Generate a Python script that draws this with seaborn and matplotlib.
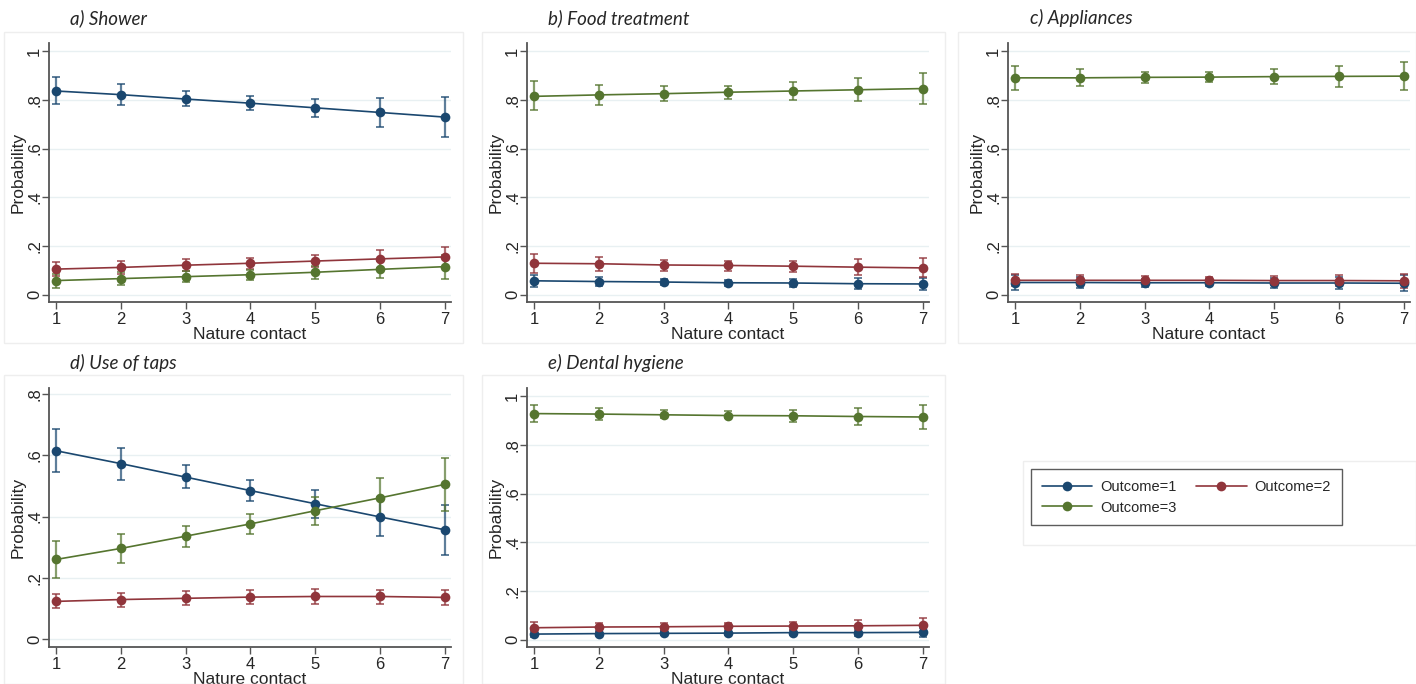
import numpy as np
import pandas as pd
import matplotlib
matplotlib.use("Agg")
import matplotlib.pyplot as plt
from matplotlib.patches import Rectangle
from matplotlib.lines import Line2D
import seaborn as sns

# Predicted probabilities by nature contact level (1..7)
nature = [1, 2, 3, 4, 5, 6, 7]
outcomes = ["Outcome=1", "Outcome=2", "Outcome=3"]

# a) Shower
shower_est = [[0.836, 0.821, 0.803, 0.786, 0.767, 0.748, 0.729],
              [0.105, 0.112, 0.121, 0.129, 0.138, 0.147, 0.155],
              [0.058, 0.066, 0.074, 0.082, 0.092, 0.104, 0.115]]
shower_lo = [[0.781, 0.778, 0.773, 0.759, 0.730, 0.690, 0.647],
             [0.075, 0.085, 0.096, 0.107, 0.112, 0.111, 0.114],
             [0.029, 0.038, 0.052, 0.062, 0.066, 0.068, 0.066]]
shower_hi = [[0.892, 0.863, 0.834, 0.814, 0.805, 0.807, 0.811],
             [0.136, 0.140, 0.145, 0.151, 0.164, 0.182, 0.196],
             [0.086, 0.093, 0.096, 0.103, 0.118, 0.140, 0.164]]

# b) Food treatment
food_est = [[0.057, 0.054, 0.052, 0.049, 0.048, 0.045, 0.044],
            [0.129, 0.127, 0.122, 0.120, 0.117, 0.113, 0.110],
            [0.814, 0.820, 0.825, 0.831, 0.836, 0.841, 0.846]]
food_lo = [[0.030, 0.035, 0.038, 0.037, 0.031, 0.023, 0.019],
           [0.091, 0.097, 0.099, 0.099, 0.093, 0.082, 0.071],
           [0.756, 0.778, 0.797, 0.805, 0.801, 0.795, 0.784]]
food_hi = [[0.079, 0.072, 0.065, 0.061, 0.064, 0.068, 0.069],
           [0.167, 0.154, 0.144, 0.139, 0.140, 0.146, 0.150],
           [0.875, 0.862, 0.855, 0.858, 0.871, 0.890, 0.911]]

# c) Appliances
appl_est = [[0.050, 0.050, 0.049, 0.049, 0.048, 0.048, 0.047],
            [0.059, 0.059, 0.059, 0.059, 0.058, 0.058, 0.057],
            [0.890, 0.890, 0.892, 0.893, 0.895, 0.896, 0.897]]
appl_lo = [[0.020, 0.028, 0.033, 0.034, 0.029, 0.022, 0.014],
           [0.034, 0.039, 0.043, 0.044, 0.041, 0.036, 0.029],
           [0.842, 0.856, 0.868, 0.871, 0.864, 0.852, 0.841]]
appl_hi = [[0.080, 0.072, 0.065, 0.064, 0.067, 0.074, 0.080],
           [0.084, 0.079, 0.075, 0.074, 0.075, 0.080, 0.085],
           [0.938, 0.925, 0.916, 0.916, 0.925, 0.940, 0.955]]

# d) Use of taps
taps_est = [[0.615, 0.573, 0.529, 0.485, 0.442, 0.399, 0.357],
            [0.123, 0.129, 0.133, 0.137, 0.139, 0.139, 0.136],
            [0.260, 0.296, 0.336, 0.376, 0.419, 0.461, 0.505]]
taps_lo = [[0.545, 0.520, 0.492, 0.452, 0.397, 0.335, 0.275],
           [0.100, 0.106, 0.110, 0.113, 0.115, 0.115, 0.111],
           [0.198, 0.248, 0.300, 0.342, 0.373, 0.396, 0.417]]
taps_hi = [[0.686, 0.625, 0.567, 0.520, 0.487, 0.463, 0.439],
           [0.148, 0.152, 0.156, 0.161, 0.162, 0.161, 0.160],
           [0.320, 0.343, 0.369, 0.409, 0.463, 0.527, 0.592]]

# e) Dental hygiene
dental_est = [[0.023, 0.025, 0.026, 0.027, 0.029, 0.029, 0.030],
              [0.049, 0.052, 0.053, 0.055, 0.056, 0.057, 0.059],
              [0.928, 0.926, 0.923, 0.920, 0.919, 0.916, 0.914]]
dental_lo = [[0.010, 0.014, 0.018, 0.019, 0.018, 0.015, 0.010],
             [0.025, 0.033, 0.040, 0.042, 0.040, 0.034, 0.029],
             [0.893, 0.900, 0.910, 0.910, 0.895, 0.882, 0.866]]
dental_hi = [[0.037, 0.036, 0.034, 0.034, 0.039, 0.044, 0.048],
             [0.074, 0.068, 0.067, 0.067, 0.072, 0.081, 0.089],
             [0.962, 0.951, 0.942, 0.938, 0.943, 0.950, 0.962]]

titles = ["a) Shower", "b) Food treatment", "c) Appliances",
          "d) Use of taps", "e) Dental hygiene"]
colors = ["#1a476f", "#90353b", "#55752f"]

W, H = 1416, 684


def to_frame(est, lo, hi):
    rows = []
    for k, name in enumerate(outcomes):
        for i, x in enumerate(nature):
            rows.append({"nature": x, "outcome": name, "p": est[k][i],
                         "lo": lo[k][i], "hi": hi[k][i]})
    return pd.DataFrame(rows)


panels = [to_frame(shower_est, shower_lo, shower_hi),
          to_frame(food_est, food_lo, food_hi),
          to_frame(appl_est, appl_lo, appl_hi),
          to_frame(taps_est, taps_lo, taps_hi),
          to_frame(dental_est, dental_lo, dental_hi)]

sns.set_theme(style="white")
plt.rcParams["font.family"] = ["Liberation Sans", "DejaVu Sans"]

fig = plt.figure(figsize=(W / 100, H / 100), dpi=100)

# faint panel frames (Stata graph regions)
frames = [(4, 32, 463, 343), (482, 32, 945, 343), (958, 32, 1416, 343),
          (4, 375, 463, 684), (482, 375, 945, 684), (1023, 461, 1416, 545)]
for x0, y0, x1, y1 in frames:
    fig.add_artist(Rectangle((x0 / W, 1 - y1 / H), (x1 - x0) / W, (y1 - y0) / H,
                             transform=fig.transFigure, fill=False,
                             edgecolor="#eeeeee", lw=1))

col_left = [49, 527, 1008]
ax_w = 402
row_top = [43, 388]
ax_h = 259

positions = [(0, 0), (0, 1), (0, 2), (1, 0), (1, 1)]
title_x = [70, 548, 1030]
title_y = [18, 363]

for idx, (df, (r, c)) in enumerate(zip(panels, positions)):
    left = col_left[c] / W
    bottom = 1 - (row_top[r] + ax_h) / H
    ax = fig.add_axes([left, bottom, ax_w / W, ax_h / H])

    for k, name in enumerate(outcomes):
        sub = df[df["outcome"] == name]
        ax.errorbar(sub["nature"], sub["p"],
                    yerr=[sub["p"] - sub["lo"], sub["hi"] - sub["p"]],
                    fmt="none", ecolor=colors[k], alpha=0.7, elinewidth=1.6,
                    capsize=3, capthick=1.4, zorder=2)
    sns.lineplot(data=df, x="nature", y="p", hue="outcome", palette=colors,
                 marker="o", markersize=7, markeredgewidth=0, linewidth=1.2,
                 ax=ax, legend=False, zorder=3)

    if idx == 3:
        ticks = [0, 0.2, 0.4, 0.6, 0.8]
        labels = ["0", ".2", ".4", ".6", ".8"]
        ax.set_ylim(-0.026, 0.82)
    else:
        ticks = [0, 0.2, 0.4, 0.6, 0.8, 1.0]
        labels = ["0", ".2", ".4", ".6", ".8", "1"]
        ax.set_ylim(-0.03, 1.033)
    ax.set_yticks(ticks)
    ax.set_yticklabels(labels)
    ax.set_xlim(0.89, 7.1)
    ax.set_xticks(nature)

    ax.grid(axis="y", color="#e8f0f2", linewidth=1)
    ax.set_axisbelow(True)
    for s in ["top", "right"]:
        ax.spines[s].set_visible(False)
    for s in ["left", "bottom"]:
        ax.spines[s].set_color("#555555")
        ax.spines[s].set_linewidth(1.3)
    ax.tick_params(axis="both", direction="out", length=5, width=1,
                   color="#555555", labelsize=12, pad=2, left=True, bottom=True)
    ax.tick_params(axis="y", labelrotation=90, pad=0)
    for lab in ax.get_yticklabels():
        lab.set_va("center")

    ax.set_xlabel("Nature contact", fontsize=12.5, labelpad=0)
    ax.set_ylabel("Probability", fontsize=12.5, labelpad=1)

    fig.text(title_x[c] / W, 1 - title_y[r] / H, titles[idx],
             family="Lato", style="italic", fontsize=13.5,
             ha="left", va="center")

handles = [Line2D([], [], color=col, marker="o", markersize=7,
                  markeredgewidth=0, linewidth=1.2) for col in colors]
order = [0, 2, 1]
leg = fig.legend([handles[i] for i in order], [outcomes[i] for i in order],
                 ncol=2, loc="upper left",
                 bbox_to_anchor=(1031 / W, 1 - 469 / H),
                 frameon=True, fancybox=False, edgecolor="#333333",
                 fontsize=10.5, handlelength=3.45, columnspacing=1.35,
                 borderpad=0.75, labelspacing=0.45, handletextpad=0.55,
                 borderaxespad=0)
leg.get_frame().set_linewidth(1)

fig.savefig("out.png", dpi=100, facecolor="white")
